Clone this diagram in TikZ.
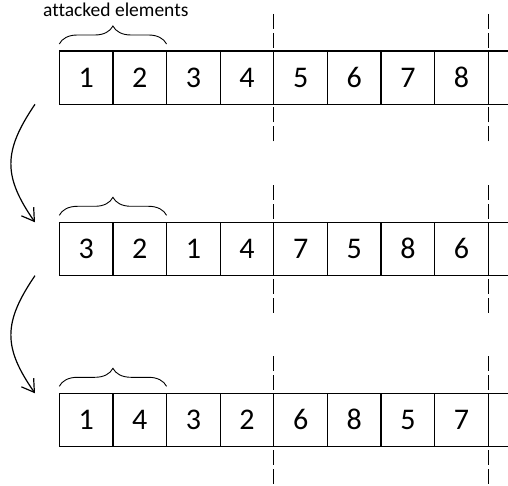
\documentclass[tikz,border=0pt]{standalone}
\usepackage{fontspec}
\setmainfont{Carlito}[Ligatures=NoCommon]
\usetikzlibrary{decorations.pathreplacing,arrows.meta}

\begin{document}
\begin{tikzpicture}[x=1pt,y=-1pt,
  cell/.style={draw, line width=1.3pt, minimum width=53.625pt, minimum height=53.3pt,
    inner sep=0pt, outer sep=0pt, anchor=north west, text height=19pt, text depth=0pt,
    font=\fontsize{30}{30}\selectfont},
  rail/.style={line width=1.3pt},
  cut/.style={line width=1.3pt, dash pattern=on 15pt off 4pt},
  group/.style={line width=0.9pt, decorate, decoration={brace, amplitude=18pt}},
  flow/.style={line width=1.2pt, -{Straight Barb[length=12pt,width=15pt,line width=1.2pt]}},
  caption/.style={font=\fontsize{19.5}{19.5}\selectfont, anchor=base}]

\useasboundingbox (0,0) rectangle (508,486);
\coordinate (edge) at (508,0);

% three rows of eight cells
\foreach \row/\top/\vals in {1/51/{1,2,3,4,5,6,7,8},
                             2/222.3/{3,2,1,4,7,5,8,6},
                             3/393.3/{1,4,3,2,6,8,5,7}} {
  \foreach \v [count=\c] in \vals {
    \node[cell] (r\row c\c) at ({59.3+(\c-1)*53.625}, \top) {\v};
  }
  % rails continuing past the last cell
  \draw[rail] (r\row c8.north east) -- (r\row c8.north east -| edge);
  \draw[rail] (r\row c8.south east) -- (r\row c8.south east -| edge);
  % block boundaries
  \foreach \k in {4,8} {
    \coordinate (up\row\k) at ([yshift=37pt]r\row c\k.north east);
    \coordinate (dn\row\k) at ([yshift=-37pt]r\row c\k.south east);
    \draw[cut] (up\row\k) -- (r\row c\k.north east);
    \draw[cut] (dn\row\k) -- (r\row c\k.south east);
  }
  % brace over the first two cells
  \draw[group] ([yshift=7pt]r\row c1.north west) -- ([yshift=7pt]r\row c2.north east);
}

\node[caption] (label) at (115.8,16.7) {attacked elements};

% transitions between rows
\coordinate (s1) at ([xshift=-24.3pt]r1c1.south west);
\coordinate (e1) at ([xshift=-24.3pt]r2c1.north west);
\coordinate (s2) at ([xshift=-24.3pt]r2c1.south west);
\coordinate (e2) at ([xshift=-24.3pt]r3c1.north west);
\draw[flow] (s1) .. controls +(-32,47) and +(-32,-46) .. (e1);
\draw[flow] (s2) .. controls +(-32,47) and +(-32,-46) .. (e2);

\end{tikzpicture}
\end{document}
